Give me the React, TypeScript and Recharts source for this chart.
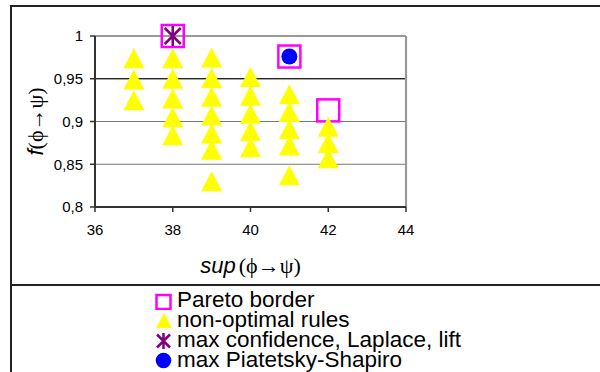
import React from 'react';
import { ScatterChart, Scatter, XAxis, YAxis, CartesianGrid, ReferenceLine, Legend } from 'recharts';

// ---- data ----
const triangleSup = [37, 37, 37, 38, 38, 38, 38, 38, 39, 39, 39, 39, 39, 39, 39, 40, 40, 40, 40, 40, 41, 41, 41, 41, 41, 42, 42, 42];
const triangleConf = [0.974, 0.949, 0.925, 0.974, 0.95, 0.927, 0.905, 0.884, 0.975, 0.951, 0.929, 0.907, 0.886, 0.867, 0.83, 0.952, 0.93, 0.909, 0.889, 0.87, 0.932, 0.911, 0.891, 0.872, 0.837, 0.894, 0.875, 0.857];
const paretoSup = [38, 41, 42];
const paretoConf = [1.0, 0.976, 0.913];
const maxConfSup = [38];
const maxConfConf = [1.0];
const maxPSSup = [41];
const maxPSConf = [0.976];
const xTicks = [36, 38, 40, 42, 44];
const yTicks = [0.8, 0.85, 0.9, 0.95, 1];
const seriesNames = ['Pareto border', 'non-optimal rules', 'max confidence, Laplace, lift', 'max Piatetsky-Shapiro'];

const zip = (xs: number[], ys: number[]) => xs.map((x, i) => ({ x, y: ys[i] }));
const triangleData = zip(triangleSup, triangleConf);
const paretoData = zip(paretoSup, paretoConf);
const maxConfData = zip(maxConfSup, maxConfConf);
const maxPSData = zip(maxPSSup, maxPSConf);

const SANS = '"Liberation Sans", Arial, sans-serif';
const SERIF = '"Liberation Serif", "Times New Roman", serif';
const MAGENTA = '#FF00FF';
const YELLOW = '#FFFF00';
const PURPLE = '#800080';
const BLUE = '#0000FF';

const SquareShape = (p: any) => {
  const { cx, cy } = p;
  return <rect x={cx - 11} y={cy - 11} width={22} height={22} fill="none" stroke={MAGENTA} strokeWidth={2.5} />;
};
const TriangleShape = (p: any) => {
  const { cx, cy } = p;
  return <polygon points={`${cx},${cy - 10} ${cx - 10.5},${cy + 10} ${cx + 10.5},${cy + 10}`} fill={YELLOW} />;
};
const StarShape = (p: any) => {
  const { cx, cy } = p;
  return (
    <path
      d={`M${cx - 8},${cy - 8}L${cx + 8},${cy + 8}M${cx + 8},${cy - 8}L${cx - 8},${cy + 8}M${cx},${cy - 10}L${cx},${cy + 10}`}
      stroke={PURPLE}
      strokeWidth={2.5}
      fill="none"
    />
  );
};
const CircleShape = (p: any) => {
  const { cx, cy } = p;
  return <circle cx={cx} cy={cy} r={8} fill={BLUE} />;
};

const XLabel = (props: any) => {
  const vb = props.viewBox || { x: 95, y: 207, width: 311 };
  const cx = vb.x + vb.width / 2;
  return (
    <text x={cx} y={vb.y + 66} textAnchor="middle" fontSize={22} fill="#000">
      <tspan fontFamily={SANS} fontStyle="italic">sup</tspan>
      <tspan fontFamily={SERIF} dx={3}>(ϕ→ψ)</tspan>
    </text>
  );
};

const YLabel = (props: any) => {
  const vb = props.viewBox || { x: 0, y: 36, height: 171 };
  const cy = vb.y + vb.height / 2;
  return (
    <text transform={`translate(43, ${cy}) rotate(-90)`} textAnchor="middle" fontSize={22} fill="#000">
      <tspan fontFamily={SANS} fontStyle="italic">f</tspan>
      <tspan fontFamily={SERIF}>(ϕ→ψ)</tspan>
    </text>
  );
};

const legendIcons = [
  <rect key="s" x={1.5} y={5} width={14} height={14} fill="none" stroke={MAGENTA} strokeWidth={2.5} />,
  <polygon key="t" points="9,3 1,18 17,18" fill={YELLOW} />,
  <path key="x" d="M2,4.5L15,17.5M15,4.5L2,17.5M8.5,3L8.5,19" stroke={PURPLE} strokeWidth={2.5} fill="none" />,
  <circle key="c" cx={8.5} cy={10.5} r={7.8} fill={BLUE} />,
];

const renderLegend = () => (
  <div style={{ fontFamily: SANS, fontSize: 22.5, lineHeight: '20px', color: '#000' }}>
    {seriesNames.map((n, i) => (
      <div key={n} style={{ display: 'flex', alignItems: 'flex-start', height: 20, whiteSpace: 'nowrap' }}>
        <svg width={17} height={20} style={{ flex: 'none' }}>{legendIcons[i]}</svg>
        <span style={{ marginLeft: 5 }}>{n}</span>
      </div>
    ))}
  </div>
);

const fmt = (v: number) => String(v).replace('.', ',');

export default function App() {
  return (
    <div style={{ position: 'absolute', left: 0, top: 0, width: 600, height: 372, background: '#fff', overflow: 'hidden' }}>
      <div style={{ position: 'absolute', left: 10, top: 5, width: 590, height: 367, borderTop: '2px solid #222', borderLeft: '2px solid #222' }} />
      <div style={{ position: 'absolute', left: 10, top: 284, width: 590, height: 0, borderTop: '2px solid #222' }} />
      <div style={{ position: 'absolute', left: 0, top: 0 }}>
        <ScatterChart width={600} height={372} margin={{ top: 36, right: 194, bottom: 135, left: 0 }}>
          <CartesianGrid horizontal vertical={false} stroke="#777" strokeWidth={1.2} />
          <ReferenceLine y={0.95} stroke="#000" strokeWidth={1.2} />
          <ReferenceLine y={1} stroke="#999" strokeWidth={2.2} />
          <ReferenceLine x={44} stroke="#999" strokeWidth={2.2} />
          <XAxis
            type="number"
            dataKey="x"
            domain={[36, 44]}
            ticks={xTicks}
            interval={0}
            height={30}
            tickSize={5}
            tickMargin={12}
            axisLine={{ stroke: '#333', strokeWidth: 2 }}
            tickLine={{ stroke: '#333', strokeWidth: 1.5 }}
            tick={{ fill: '#000', fontSize: 15, fontFamily: SANS }}
            label={<XLabel />}
          />
          <YAxis
            type="number"
            dataKey="y"
            domain={[0.8, 1]}
            ticks={yTicks}
            interval={0}
            width={95}
            tickSize={5}
            tickMargin={7}
            tickFormatter={fmt}
            axisLine={{ stroke: '#333', strokeWidth: 2 }}
            tickLine={{ stroke: '#333', strokeWidth: 1.5 }}
            tick={{ fill: '#000', fontSize: 15, fontFamily: SANS }}
            label={<YLabel />}
          />
          <Legend
            layout="vertical"
            align="center"
            verticalAlign="middle"
            content={renderLegend}
            wrapperStyle={{ left: 155, top: 290, width: 'auto' }}
          />
          <Scatter name={seriesNames[0]} data={paretoData} shape={SquareShape} isAnimationActive={false} />
          <Scatter name={seriesNames[1]} data={triangleData} shape={TriangleShape} isAnimationActive={false} />
          <Scatter name={seriesNames[2]} data={maxConfData} shape={StarShape} isAnimationActive={false} />
          <Scatter name={seriesNames[3]} data={maxPSData} shape={CircleShape} isAnimationActive={false} />
        </ScatterChart>
      </div>
    </div>
  );
}
